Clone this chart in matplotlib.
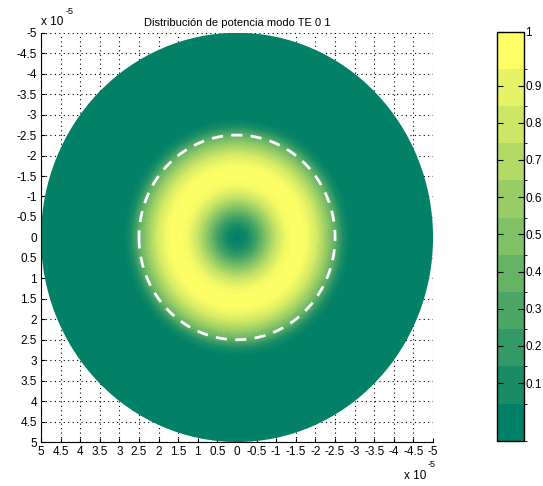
import numpy as np
import matplotlib
matplotlib.use("Agg")
import matplotlib.pyplot as plt
from matplotlib.colors import ListedColormap, BoundaryNorm
from matplotlib.patches import Circle
import matplotlib.cm as cm

plt.rcParams['font.family'] = ['Liberation Sans', 'DejaVu Sans']

# radial power profile (r in units of 1e-5 m)
radius = [0, 0.25, 0.5, 0.75, 1.0, 1.25, 1.5, 1.75, 2.0, 2.25, 2.5, 2.6, 2.7, 2.8, 2.9, 3.0, 5.0]
power = [0, 0.06, 0.25, 0.52, 0.77, 0.94, 1.0, 0.97, 0.84, 0.62, 0.36, 0.22, 0.10, 0.04, 0.01, 0, 0]
core_radius = 2.5
outer_radius = 5.0

ticks = [-5, -4.5, -4, -3.5, -3, -2.5, -2, -1.5, -1, -0.5, 0, 0.5, 1, 1.5, 2, 2.5, 3, 3.5, 4, 4.5, 5]
tick_labels = ["-5", "-4.5", "-4", "-3.5", "-3", "-2.5", "-2", "-1.5", "-1", "-0.5", "0",
               "0.5", "1", "1.5", "2", "2.5", "3", "3.5", "4", "4.5", "5"]
cbar_ticks = [0.1, 0.2, 0.3, 0.4, 0.5, 0.6, 0.7, 0.8, 0.9, 1]
cbar_labels = ["0.1", "0.2", "0.3", "0.4", "0.5", "0.6", "0.7", "0.8", "0.9", "1"]
cbar_bounds = [0, 0.045, 0.145, 0.245, 0.345, 0.445, 0.545, 0.645, 0.745, 0.845, 0.945, 1.0]

# 2D field from the radial profile
g = np.linspace(-outer_radius, outer_radius, 601)
X, Y = np.meshgrid(g, g)
R = np.hypot(X, Y)
Z = np.interp(R, radius, power)
Z[R > outer_radius * 1.01] = np.nan

fig = plt.figure(figsize=(5.43, 4.86), dpi=100)
ax = fig.add_axes([0.0755, 0.0905, 0.722, 0.842])

cs = ax.contourf(X, Y, Z, levels=np.linspace(0, 1, 41), cmap="summer", zorder=1)
clip = Circle((0, 0), outer_radius, transform=ax.transData)
cs.set_clip_path(clip)

t = np.linspace(0, 2 * np.pi, 400)
ax.plot(core_radius * np.cos(t), core_radius * np.sin(t), color="white",
        linestyle=(0, (4, 3)), linewidth=2, zorder=3)

ax.set_xlim(5, -5)
ax.set_ylim(5, -5)
ax.set_xticks(ticks)
ax.set_xticklabels(tick_labels)
ax.set_yticks(ticks)
ax.set_yticklabels(tick_labels)
ax.tick_params(direction="in", labelsize=8.5, length=3, pad=3)
ax.set_axisbelow(True)
ax.grid(True, linestyle=(0, (1, 3)), color="black", linewidth=0.8)
ax.spines["top"].set_visible(False)
ax.spines["right"].set_visible(False)

ax.set_title("Distribución de potencia modo TE 0 1", fontsize=8, pad=5)
ax.text(0.0, 1.012, "x 10", transform=ax.transAxes, fontsize=8.5, ha="left", va="bottom")
ax.text(0.062, 1.04, "-5", transform=ax.transAxes, fontsize=6.5, ha="left", va="bottom")
ax.text(0.925, -0.068, "x 10", transform=ax.transAxes, fontsize=8.5, ha="left", va="top")
ax.text(0.987, -0.045, "-5", transform=ax.transAxes, fontsize=6.5, ha="left", va="top")

# colorbar with discrete bands
cax = fig.add_axes([0.915, 0.093, 0.05, 0.842])
band_cmap = ListedColormap(cm.summer(np.linspace(0, 1, len(cbar_bounds) - 1)))
norm = BoundaryNorm(cbar_bounds, band_cmap.N)
sm = cm.ScalarMappable(norm=norm, cmap=band_cmap)
cb = fig.colorbar(sm, cax=cax, boundaries=cbar_bounds, ticks=cbar_ticks)
cb.ax.set_yticklabels(cbar_labels)
cb.outline.set_linewidth(1)
cax.tick_params(direction="in", labelsize=8.5, left=True, right=True, length=4, pad=1)

fig.savefig("out.png", dpi=100)
